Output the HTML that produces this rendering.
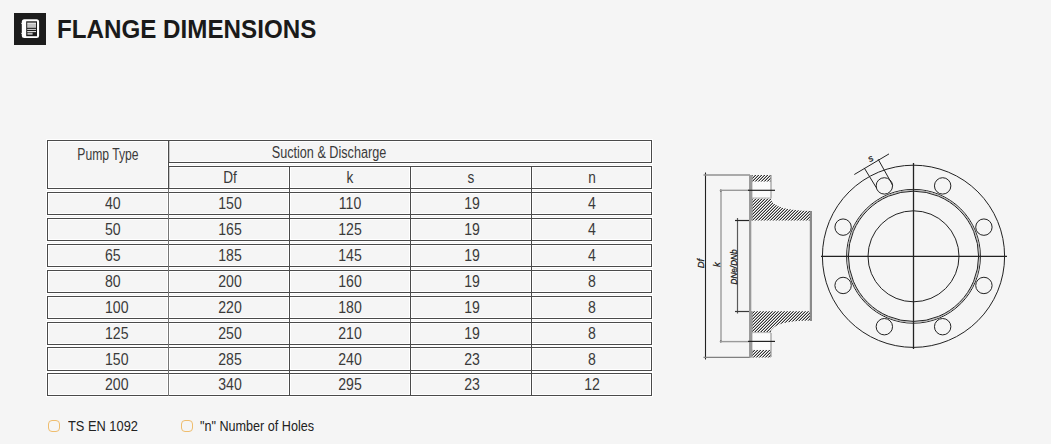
<!DOCTYPE html>
<html><head><meta charset="utf-8"><style>
html,body{margin:0;padding:0;}
body{width:1051px;height:444px;background:#f5f5f5;position:relative;overflow:hidden;font-family:"Liberation Sans",sans-serif;}
.abs{position:absolute;}
.t{position:absolute;white-space:nowrap;line-height:1;}
.c{text-align:center;}
</style></head><body>
<svg class="abs" style="left:14px;top:13px" width="32" height="32" viewBox="0 0 32 32">
<rect x="0" y="0" width="32" height="32" fill="#1c1c1c"/>
<rect x="7.8" y="6.2" width="17.3" height="18.8" rx="2.5" fill="#fff"/>
<path d="M6.6 9.8 L8.5 10.2 L8.5 11.6 Z" fill="#fff"/>
<path d="M6.6 19.8 L8.5 20.2 L8.5 21.6 Z" fill="#fff"/>
<rect x="12.2" y="8.3" width="10.8" height="14.9" fill="#1c1c1c"/>
<rect x="13.2" y="9.6" width="8.8" height="1.4" fill="#dedede"/>
<rect x="13.2" y="11" width="8.8" height="3.8" fill="#c2c2c2"/>
<rect x="13.2" y="15.9" width="8.8" height="0.9" fill="#f2f2f2"/>
<rect x="13.2" y="18.1" width="8.8" height="1" fill="#f2f2f2"/>
<rect x="13.4" y="19.7" width="5.2" height="2" fill="#bdbdbd"/>
</svg>
<div class="t" style="left:57.00px;top:15.99px;font-size:26px;font-weight:bold;color:#1a1a1a;transform:scaleX(0.93);transform-origin:0 0">FLANGE DIMENSIONS</div>
<div class="abs" style="left:46px;top:139px;width:124px;height:3px;background:#ffffff"></div>
<div class="abs" style="left:46px;top:187px;width:124px;height:3px;background:#ffffff"></div>
<div class="abs" style="left:46px;top:139px;width:3px;height:51px;background:#ffffff"></div>
<div class="abs" style="left:167px;top:139px;width:486px;height:3px;background:#ffffff"></div>
<div class="abs" style="left:167px;top:161px;width:486px;height:3px;background:#ffffff"></div>
<div class="abs" style="left:650px;top:139px;width:3px;height:25px;background:#ffffff"></div>
<div class="abs" style="left:167px;top:165px;width:486px;height:3px;background:#ffffff"></div>
<div class="abs" style="left:167px;top:187px;width:486px;height:3px;background:#ffffff"></div>
<div class="abs" style="left:650px;top:165px;width:3px;height:25px;background:#ffffff"></div>
<div class="abs" style="left:46px;top:191px;width:607px;height:3px;background:#ffffff"></div>
<div class="abs" style="left:46px;top:213px;width:607px;height:3px;background:#ffffff"></div>
<div class="abs" style="left:46px;top:191px;width:3px;height:25px;background:#ffffff"></div>
<div class="abs" style="left:650px;top:191px;width:3px;height:25px;background:#ffffff"></div>
<div class="abs" style="left:46px;top:217px;width:607px;height:3px;background:#ffffff"></div>
<div class="abs" style="left:46px;top:239px;width:607px;height:3px;background:#ffffff"></div>
<div class="abs" style="left:46px;top:217px;width:3px;height:25px;background:#ffffff"></div>
<div class="abs" style="left:650px;top:217px;width:3px;height:25px;background:#ffffff"></div>
<div class="abs" style="left:46px;top:243px;width:607px;height:3px;background:#ffffff"></div>
<div class="abs" style="left:46px;top:265px;width:607px;height:3px;background:#ffffff"></div>
<div class="abs" style="left:46px;top:243px;width:3px;height:25px;background:#ffffff"></div>
<div class="abs" style="left:650px;top:243px;width:3px;height:25px;background:#ffffff"></div>
<div class="abs" style="left:46px;top:269px;width:607px;height:3px;background:#ffffff"></div>
<div class="abs" style="left:46px;top:291px;width:607px;height:3px;background:#ffffff"></div>
<div class="abs" style="left:46px;top:269px;width:3px;height:25px;background:#ffffff"></div>
<div class="abs" style="left:650px;top:269px;width:3px;height:25px;background:#ffffff"></div>
<div class="abs" style="left:46px;top:295px;width:607px;height:3px;background:#ffffff"></div>
<div class="abs" style="left:46px;top:317px;width:607px;height:3px;background:#ffffff"></div>
<div class="abs" style="left:46px;top:295px;width:3px;height:25px;background:#ffffff"></div>
<div class="abs" style="left:650px;top:295px;width:3px;height:25px;background:#ffffff"></div>
<div class="abs" style="left:46px;top:321px;width:607px;height:3px;background:#ffffff"></div>
<div class="abs" style="left:46px;top:343px;width:607px;height:3px;background:#ffffff"></div>
<div class="abs" style="left:46px;top:321px;width:3px;height:25px;background:#ffffff"></div>
<div class="abs" style="left:650px;top:321px;width:3px;height:25px;background:#ffffff"></div>
<div class="abs" style="left:46px;top:346px;width:607px;height:3px;background:#ffffff"></div>
<div class="abs" style="left:46px;top:369px;width:607px;height:3px;background:#ffffff"></div>
<div class="abs" style="left:46px;top:346px;width:3px;height:26px;background:#ffffff"></div>
<div class="abs" style="left:650px;top:346px;width:3px;height:26px;background:#ffffff"></div>
<div class="abs" style="left:46px;top:372px;width:607px;height:3px;background:#ffffff"></div>
<div class="abs" style="left:46px;top:394px;width:607px;height:3px;background:#ffffff"></div>
<div class="abs" style="left:46px;top:372px;width:3px;height:25px;background:#ffffff"></div>
<div class="abs" style="left:650px;top:372px;width:3px;height:25px;background:#ffffff"></div>
<div class="abs" style="left:167px;top:139px;width:3px;height:258px;background:#ffffff"></div>
<div class="abs" style="left:288px;top:165px;width:3px;height:232px;background:#ffffff"></div>
<div class="abs" style="left:409px;top:165px;width:3px;height:232px;background:#ffffff"></div>
<div class="abs" style="left:530px;top:165px;width:3px;height:232px;background:#ffffff"></div>
<div class="abs" style="left:47px;top:140px;width:122px;height:1px;background:#4a4a4a"></div>
<div class="abs" style="left:47px;top:188px;width:122px;height:1px;background:#4a4a4a"></div>
<div class="abs" style="left:47px;top:140px;width:1px;height:49px;background:#4a4a4a"></div>
<div class="abs" style="left:168px;top:140px;width:484px;height:1px;background:#4a4a4a"></div>
<div class="abs" style="left:168px;top:162px;width:484px;height:1px;background:#4a4a4a"></div>
<div class="abs" style="left:651px;top:140px;width:1px;height:23px;background:#4a4a4a"></div>
<div class="abs" style="left:168px;top:166px;width:484px;height:1px;background:#4a4a4a"></div>
<div class="abs" style="left:168px;top:188px;width:484px;height:1px;background:#4a4a4a"></div>
<div class="abs" style="left:651px;top:166px;width:1px;height:23px;background:#4a4a4a"></div>
<div class="abs" style="left:47px;top:192px;width:605px;height:1px;background:#4a4a4a"></div>
<div class="abs" style="left:47px;top:214px;width:605px;height:1px;background:#4a4a4a"></div>
<div class="abs" style="left:47px;top:192px;width:1px;height:23px;background:#4a4a4a"></div>
<div class="abs" style="left:651px;top:192px;width:1px;height:23px;background:#4a4a4a"></div>
<div class="abs" style="left:47px;top:218px;width:605px;height:1px;background:#4a4a4a"></div>
<div class="abs" style="left:47px;top:240px;width:605px;height:1px;background:#4a4a4a"></div>
<div class="abs" style="left:47px;top:218px;width:1px;height:23px;background:#4a4a4a"></div>
<div class="abs" style="left:651px;top:218px;width:1px;height:23px;background:#4a4a4a"></div>
<div class="abs" style="left:47px;top:244px;width:605px;height:1px;background:#4a4a4a"></div>
<div class="abs" style="left:47px;top:266px;width:605px;height:1px;background:#4a4a4a"></div>
<div class="abs" style="left:47px;top:244px;width:1px;height:23px;background:#4a4a4a"></div>
<div class="abs" style="left:651px;top:244px;width:1px;height:23px;background:#4a4a4a"></div>
<div class="abs" style="left:47px;top:270px;width:605px;height:1px;background:#4a4a4a"></div>
<div class="abs" style="left:47px;top:292px;width:605px;height:1px;background:#4a4a4a"></div>
<div class="abs" style="left:47px;top:270px;width:1px;height:23px;background:#4a4a4a"></div>
<div class="abs" style="left:651px;top:270px;width:1px;height:23px;background:#4a4a4a"></div>
<div class="abs" style="left:47px;top:296px;width:605px;height:1px;background:#4a4a4a"></div>
<div class="abs" style="left:47px;top:318px;width:605px;height:1px;background:#4a4a4a"></div>
<div class="abs" style="left:47px;top:296px;width:1px;height:23px;background:#4a4a4a"></div>
<div class="abs" style="left:651px;top:296px;width:1px;height:23px;background:#4a4a4a"></div>
<div class="abs" style="left:47px;top:322px;width:605px;height:1px;background:#4a4a4a"></div>
<div class="abs" style="left:47px;top:344px;width:605px;height:1px;background:#4a4a4a"></div>
<div class="abs" style="left:47px;top:322px;width:1px;height:23px;background:#4a4a4a"></div>
<div class="abs" style="left:651px;top:322px;width:1px;height:23px;background:#4a4a4a"></div>
<div class="abs" style="left:47px;top:347px;width:605px;height:1px;background:#4a4a4a"></div>
<div class="abs" style="left:47px;top:370px;width:605px;height:1px;background:#4a4a4a"></div>
<div class="abs" style="left:47px;top:347px;width:1px;height:24px;background:#4a4a4a"></div>
<div class="abs" style="left:651px;top:347px;width:1px;height:24px;background:#4a4a4a"></div>
<div class="abs" style="left:47px;top:373px;width:605px;height:1px;background:#4a4a4a"></div>
<div class="abs" style="left:47px;top:395px;width:605px;height:1px;background:#4a4a4a"></div>
<div class="abs" style="left:47px;top:373px;width:1px;height:23px;background:#4a4a4a"></div>
<div class="abs" style="left:651px;top:373px;width:1px;height:23px;background:#4a4a4a"></div>
<div class="abs" style="left:168px;top:140px;width:1px;height:256px;background:#767676"></div>
<div class="abs" style="left:168px;top:140px;width:1px;height:49px;background:#4a4a4a"></div>
<div class="abs" style="left:169px;top:141px;width:1px;height:21px;background:#c8c8c8"></div>
<div class="abs" style="left:169px;top:167px;width:1px;height:21px;background:#c8c8c8"></div>
<div class="abs" style="left:289px;top:166px;width:1px;height:230px;background:#4a4a4a"></div>
<div class="abs" style="left:410px;top:166px;width:1px;height:230px;background:#4a4a4a"></div>
<div class="abs" style="left:531px;top:166px;width:1px;height:230px;background:#4a4a4a"></div>
<div class="t c" style="left:-92.50px;width:400px;top:147.46px;font-size:16px;font-weight:normal;color:#3a3a3a;transform:scaleX(0.76);transform-origin:50% 0">Pump Type</div>
<div class="t c" style="left:128.60px;width:400px;top:144.96px;font-size:16px;font-weight:normal;color:#3a3a3a;transform:scaleX(0.79);transform-origin:50% 0">Suction &amp; Discharge</div>
<div class="t c" style="left:29.50px;width:400px;top:169.96px;font-size:16px;font-weight:normal;color:#3a3a3a;transform:scaleX(0.85);transform-origin:50% 0">Df</div>
<div class="t c" style="left:149.50px;width:400px;top:169.96px;font-size:16px;font-weight:normal;color:#3a3a3a;transform:scaleX(0.85);transform-origin:50% 0">k</div>
<div class="t c" style="left:271.00px;width:400px;top:169.96px;font-size:16px;font-weight:normal;color:#3a3a3a;transform:scaleX(0.85);transform-origin:50% 0">s</div>
<div class="t c" style="left:392.00px;width:400px;top:169.96px;font-size:16px;font-weight:normal;color:#3a3a3a;transform:scaleX(0.85);transform-origin:50% 0">n</div>
<div class="t" style="left:104.50px;top:195.96px;font-size:16px;font-weight:normal;color:#3a3a3a;transform:scaleX(0.88);transform-origin:0 0">40</div>
<div class="t c" style="left:30.00px;width:400px;top:195.96px;font-size:16px;font-weight:normal;color:#3a3a3a;transform:scaleX(0.88);transform-origin:50% 0">150</div>
<div class="t c" style="left:149.50px;width:400px;top:195.96px;font-size:16px;font-weight:normal;color:#3a3a3a;transform:scaleX(0.88);transform-origin:50% 0">110</div>
<div class="t c" style="left:271.50px;width:400px;top:195.96px;font-size:16px;font-weight:normal;color:#3a3a3a;transform:scaleX(0.88);transform-origin:50% 0">19</div>
<div class="t c" style="left:392.00px;width:400px;top:195.96px;font-size:16px;font-weight:normal;color:#3a3a3a;transform:scaleX(0.88);transform-origin:50% 0">4</div>
<div class="t" style="left:104.50px;top:221.96px;font-size:16px;font-weight:normal;color:#3a3a3a;transform:scaleX(0.88);transform-origin:0 0">50</div>
<div class="t c" style="left:30.00px;width:400px;top:221.96px;font-size:16px;font-weight:normal;color:#3a3a3a;transform:scaleX(0.88);transform-origin:50% 0">165</div>
<div class="t c" style="left:149.50px;width:400px;top:221.96px;font-size:16px;font-weight:normal;color:#3a3a3a;transform:scaleX(0.88);transform-origin:50% 0">125</div>
<div class="t c" style="left:271.50px;width:400px;top:221.96px;font-size:16px;font-weight:normal;color:#3a3a3a;transform:scaleX(0.88);transform-origin:50% 0">19</div>
<div class="t c" style="left:392.00px;width:400px;top:221.96px;font-size:16px;font-weight:normal;color:#3a3a3a;transform:scaleX(0.88);transform-origin:50% 0">4</div>
<div class="t" style="left:104.50px;top:247.96px;font-size:16px;font-weight:normal;color:#3a3a3a;transform:scaleX(0.88);transform-origin:0 0">65</div>
<div class="t c" style="left:30.00px;width:400px;top:247.96px;font-size:16px;font-weight:normal;color:#3a3a3a;transform:scaleX(0.88);transform-origin:50% 0">185</div>
<div class="t c" style="left:149.50px;width:400px;top:247.96px;font-size:16px;font-weight:normal;color:#3a3a3a;transform:scaleX(0.88);transform-origin:50% 0">145</div>
<div class="t c" style="left:271.50px;width:400px;top:247.96px;font-size:16px;font-weight:normal;color:#3a3a3a;transform:scaleX(0.88);transform-origin:50% 0">19</div>
<div class="t c" style="left:392.00px;width:400px;top:247.96px;font-size:16px;font-weight:normal;color:#3a3a3a;transform:scaleX(0.88);transform-origin:50% 0">4</div>
<div class="t" style="left:104.50px;top:273.96px;font-size:16px;font-weight:normal;color:#3a3a3a;transform:scaleX(0.88);transform-origin:0 0">80</div>
<div class="t c" style="left:30.00px;width:400px;top:273.96px;font-size:16px;font-weight:normal;color:#3a3a3a;transform:scaleX(0.88);transform-origin:50% 0">200</div>
<div class="t c" style="left:149.50px;width:400px;top:273.96px;font-size:16px;font-weight:normal;color:#3a3a3a;transform:scaleX(0.88);transform-origin:50% 0">160</div>
<div class="t c" style="left:271.50px;width:400px;top:273.96px;font-size:16px;font-weight:normal;color:#3a3a3a;transform:scaleX(0.88);transform-origin:50% 0">19</div>
<div class="t c" style="left:392.00px;width:400px;top:273.96px;font-size:16px;font-weight:normal;color:#3a3a3a;transform:scaleX(0.88);transform-origin:50% 0">8</div>
<div class="t" style="left:104.50px;top:299.96px;font-size:16px;font-weight:normal;color:#3a3a3a;transform:scaleX(0.88);transform-origin:0 0">100</div>
<div class="t c" style="left:30.00px;width:400px;top:299.96px;font-size:16px;font-weight:normal;color:#3a3a3a;transform:scaleX(0.88);transform-origin:50% 0">220</div>
<div class="t c" style="left:149.50px;width:400px;top:299.96px;font-size:16px;font-weight:normal;color:#3a3a3a;transform:scaleX(0.88);transform-origin:50% 0">180</div>
<div class="t c" style="left:271.50px;width:400px;top:299.96px;font-size:16px;font-weight:normal;color:#3a3a3a;transform:scaleX(0.88);transform-origin:50% 0">19</div>
<div class="t c" style="left:392.00px;width:400px;top:299.96px;font-size:16px;font-weight:normal;color:#3a3a3a;transform:scaleX(0.88);transform-origin:50% 0">8</div>
<div class="t" style="left:104.50px;top:325.96px;font-size:16px;font-weight:normal;color:#3a3a3a;transform:scaleX(0.88);transform-origin:0 0">125</div>
<div class="t c" style="left:30.00px;width:400px;top:325.96px;font-size:16px;font-weight:normal;color:#3a3a3a;transform:scaleX(0.88);transform-origin:50% 0">250</div>
<div class="t c" style="left:149.50px;width:400px;top:325.96px;font-size:16px;font-weight:normal;color:#3a3a3a;transform:scaleX(0.88);transform-origin:50% 0">210</div>
<div class="t c" style="left:271.50px;width:400px;top:325.96px;font-size:16px;font-weight:normal;color:#3a3a3a;transform:scaleX(0.88);transform-origin:50% 0">19</div>
<div class="t c" style="left:392.00px;width:400px;top:325.96px;font-size:16px;font-weight:normal;color:#3a3a3a;transform:scaleX(0.88);transform-origin:50% 0">8</div>
<div class="t" style="left:104.50px;top:351.96px;font-size:16px;font-weight:normal;color:#3a3a3a;transform:scaleX(0.88);transform-origin:0 0">150</div>
<div class="t c" style="left:30.00px;width:400px;top:351.96px;font-size:16px;font-weight:normal;color:#3a3a3a;transform:scaleX(0.88);transform-origin:50% 0">285</div>
<div class="t c" style="left:149.50px;width:400px;top:351.96px;font-size:16px;font-weight:normal;color:#3a3a3a;transform:scaleX(0.88);transform-origin:50% 0">240</div>
<div class="t c" style="left:271.50px;width:400px;top:351.96px;font-size:16px;font-weight:normal;color:#3a3a3a;transform:scaleX(0.88);transform-origin:50% 0">23</div>
<div class="t c" style="left:392.00px;width:400px;top:351.96px;font-size:16px;font-weight:normal;color:#3a3a3a;transform:scaleX(0.88);transform-origin:50% 0">8</div>
<div class="t" style="left:104.50px;top:376.96px;font-size:16px;font-weight:normal;color:#3a3a3a;transform:scaleX(0.88);transform-origin:0 0">200</div>
<div class="t c" style="left:30.00px;width:400px;top:376.96px;font-size:16px;font-weight:normal;color:#3a3a3a;transform:scaleX(0.88);transform-origin:50% 0">340</div>
<div class="t c" style="left:149.50px;width:400px;top:376.96px;font-size:16px;font-weight:normal;color:#3a3a3a;transform:scaleX(0.88);transform-origin:50% 0">295</div>
<div class="t c" style="left:271.50px;width:400px;top:376.96px;font-size:16px;font-weight:normal;color:#3a3a3a;transform:scaleX(0.88);transform-origin:50% 0">23</div>
<div class="t c" style="left:392.00px;width:400px;top:376.96px;font-size:16px;font-weight:normal;color:#3a3a3a;transform:scaleX(0.88);transform-origin:50% 0">12</div>
<div class="abs" style="left:47.5px;top:419.5px;width:10.8px;height:10.8px;border:1.1px solid #efbd6e;border-radius:4px"></div>
<div class="t" style="left:67.50px;top:418.13px;font-size:15.2px;font-weight:normal;color:#222;transform:scaleX(0.845);transform-origin:0 0">TS EN 1092</div>
<div class="abs" style="left:180.5px;top:419.5px;width:10.8px;height:10.8px;border:1.1px solid #efbd6e;border-radius:4px"></div>
<div class="t" style="left:200.00px;top:418.13px;font-size:15.2px;font-weight:normal;color:#222;transform:scaleX(0.83);transform-origin:0 0">"n" Number of Holes</div>
<svg class="abs" style="left:0;top:0" width="1051" height="444" viewBox="0 0 1051 444">
<defs><pattern id="h" patternUnits="userSpaceOnUse" width="3" height="3"><rect x="0" y="0" width="1" height="1" fill="#333333"/><rect x="0" y="1" width="1" height="1" fill="#ffffff"/><rect x="0" y="2" width="1" height="1" fill="#a8a8a8"/><rect x="1" y="0" width="1" height="1" fill="#ffffff"/><rect x="1" y="1" width="1" height="1" fill="#a8a8a8"/><rect x="1" y="2" width="1" height="1" fill="#333333"/><rect x="2" y="0" width="1" height="1" fill="#a8a8a8"/><rect x="2" y="1" width="1" height="1" fill="#333333"/><rect x="2" y="2" width="1" height="1" fill="#ffffff"/></pattern></defs>
<line x1="705.5" y1="172.5" x2="705.5" y2="359.5" stroke="#222" stroke-width="1.1"/>
<line x1="703.5" y1="175" x2="750" y2="175" stroke="#909090" stroke-width="1.4"/>
<line x1="703.5" y1="357.4" x2="750" y2="357.4" stroke="#808080" stroke-width="1.4"/>
<line x1="721" y1="190" x2="721" y2="341.5" stroke="#a0a0a0" stroke-width="1.5"/>
<circle cx="720.8" cy="190.4" r="1" fill="#222"/><circle cx="720.8" cy="341.6" r="1" fill="#222"/>
<line x1="720" y1="190.3" x2="749" y2="190.3" stroke="#9a9a9a" stroke-width="1.4"/>
<line x1="720" y1="341.6" x2="749" y2="341.6" stroke="#9a9a9a" stroke-width="1.4"/>
<line x1="737.5" y1="218" x2="737.5" y2="313.5" stroke="#5a5a5a" stroke-width="1.2"/>
<line x1="735" y1="220.5" x2="749" y2="220.5" stroke="#262626" stroke-width="1.2"/>
<line x1="735" y1="311.5" x2="749" y2="311.5" stroke="#3a3a3a" stroke-width="1.2"/>
<rect x="751" y="175" width="20" height="6.5" fill="url(#h)"/>
<rect x="751" y="350" width="20" height="7.5" fill="url(#h)"/>
<path d="M751 198.5 L770.5 198.5 Q773 210.5 811.5 211 L811.5 220.4 L751 220.4 Z" fill="url(#h)"/>
<path d="M751 332.5 L770.5 332.5 Q773 320.5 811.5 320.5 L811.5 311.3 L751 311.3 Z" fill="url(#h)"/>
<rect x="749" y="175" width="2.3" height="182.5" fill="#9a9a9a"/>
<rect x="749" y="175" width="3.6" height="45.5" fill="#9a9a9a"/>
<rect x="749" y="311" width="3.6" height="46.5" fill="#9a9a9a"/>
<rect x="770.3" y="175" width="1.3" height="23.5" fill="#9a9a9a"/>
<rect x="770.3" y="333" width="1.3" height="24" fill="#9a9a9a"/>
<rect x="752" y="197.3" width="19" height="1.2" fill="#bbb"/>
<rect x="752" y="332" width="19" height="1.2" fill="#bbb"/>
<rect x="809.8" y="211" width="2.2" height="110" fill="#8a8a8a"/>
<rect x="752.6" y="182" width="17.6" height="15.2" fill="#fbfbfb"/>
<rect x="752.6" y="333.5" width="17.6" height="16" fill="#fbfbfb"/>
<line x1="748" y1="190.3" x2="775" y2="190.3" stroke="#222" stroke-width="1.2"/>
<line x1="748" y1="341.4" x2="775" y2="341.4" stroke="#222" stroke-width="1.2"/>
<text transform="translate(704,263.5) rotate(-90)" text-anchor="middle" font-family="Liberation Sans" font-style="italic" font-size="9.5" fill="#1a1a1a" stroke="#1a1a1a" stroke-width="0.25">Df</text>
<text transform="translate(719.5,264.5) rotate(-90)" text-anchor="middle" font-family="Liberation Sans" font-style="italic" font-size="9.5" fill="#1a1a1a" stroke="#1a1a1a" stroke-width="0.25">k</text>
<text transform="translate(736.5,267) rotate(-90)" text-anchor="middle" font-family="Liberation Sans" font-style="italic" font-size="9.5" textLength="35" lengthAdjust="spacingAndGlyphs" fill="#1a1a1a" stroke="#1a1a1a" stroke-width="0.25">DNe/DNb</text>
<circle cx="913.5" cy="256.3" r="91.1" fill="none" stroke="#222" stroke-width="1"/>
<circle cx="913.5" cy="256.3" r="66.9" fill="none" stroke="#222" stroke-width="1"/>
<circle cx="913.5" cy="256.3" r="66" fill="none" stroke="#bbb" stroke-width="1"/>
<circle cx="913.5" cy="256.3" r="65.1" fill="none" stroke="#222" stroke-width="1"/>
<circle cx="913.5" cy="256.3" r="45.5" fill="none" stroke="#222" stroke-width="1"/>
<circle cx="942.66" cy="185.90" r="8.2" fill="none" stroke="#222" stroke-width="1"/>
<circle cx="983.90" cy="227.14" r="8.2" fill="none" stroke="#222" stroke-width="1"/>
<circle cx="983.90" cy="285.46" r="8.2" fill="none" stroke="#222" stroke-width="1"/>
<circle cx="942.66" cy="326.70" r="8.2" fill="none" stroke="#222" stroke-width="1"/>
<circle cx="884.34" cy="326.70" r="8.2" fill="none" stroke="#222" stroke-width="1"/>
<circle cx="843.10" cy="285.46" r="8.2" fill="none" stroke="#222" stroke-width="1"/>
<circle cx="843.10" cy="227.14" r="8.2" fill="none" stroke="#222" stroke-width="1"/>
<circle cx="884.34" cy="185.90" r="8.2" fill="none" stroke="#222" stroke-width="1"/>
<line x1="821" y1="256.3" x2="1007" y2="256.3" stroke="#222" stroke-width="1.3"/>
<line x1="913.5" y1="163" x2="913.5" y2="349" stroke="#222" stroke-width="1.3"/>
<line x1="876.4" y1="187.8" x2="864.2" y2="167.9" stroke="#222" stroke-width="1"/>
<line x1="892.7" y1="185.3" x2="878.2" y2="159.3" stroke="#222" stroke-width="1"/>
<line x1="854.3" y1="174.5" x2="889" y2="153.9" stroke="#222" stroke-width="1"/>
<text transform="translate(872,161) rotate(-30)" text-anchor="middle" font-family="Liberation Sans" font-style="italic" font-size="9.5" fill="#1a1a1a" stroke="#1a1a1a" stroke-width="0.25">s</text>
</svg>
</body></html>
